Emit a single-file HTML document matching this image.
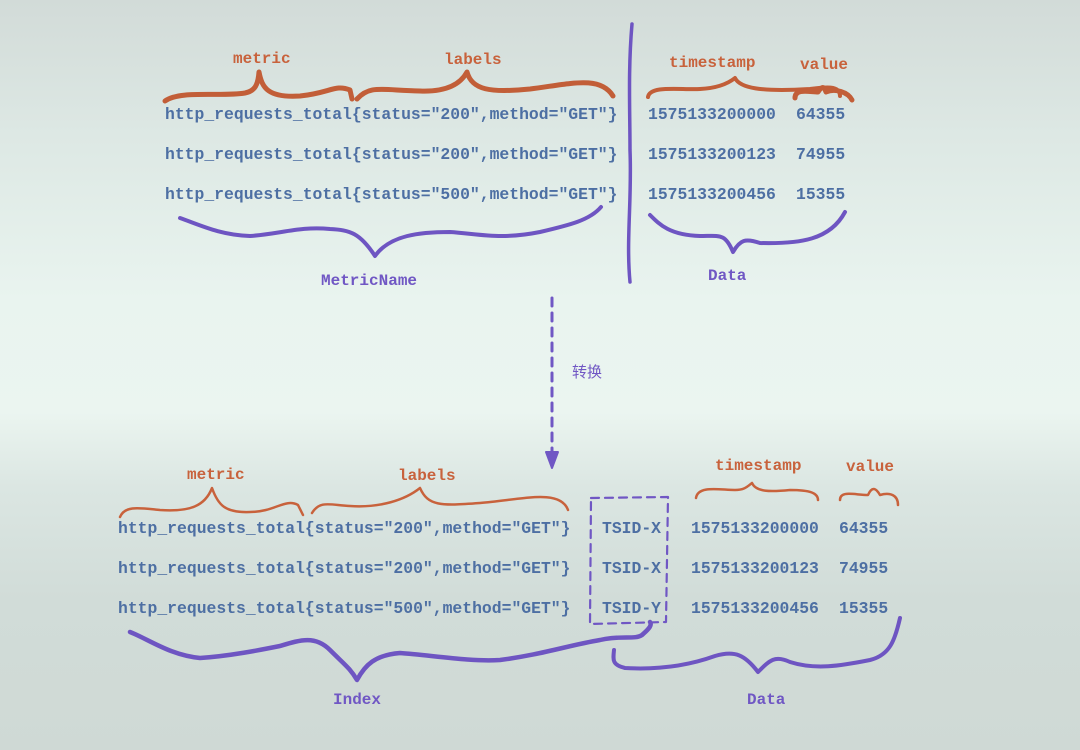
<!DOCTYPE html>
<html><head><meta charset="utf-8"><style>
html,body{margin:0;padding:0}
body{width:1080px;height:750px;overflow:hidden;background:linear-gradient(180deg,#d2dbd8 0%,#dde8e4 18%,#e9f4ef 40%,#ebf5f0 55%,#dbe6e2 65%,#d1dcd8 80%,#cfd9d5 100%)}
svg{position:absolute;left:0;top:0}
.c{font-family:"Liberation Mono",monospace;font-size:16.4px;fill:#4d6fa3;font-weight:bold}
.o{font-family:"Liberation Mono",monospace;font-size:16px;fill:#c8623c;font-weight:bold}
.p{font-family:"Liberation Mono",monospace;font-size:16px;fill:#7057c4;font-weight:bold}
</style></head><body>
<svg width="1080" height="750" viewBox="0 0 1080 750">
<g fill="none" stroke-linecap="round" stroke-linejoin="round">
<!-- top orange braces -->
<path d="M165 101 C180 90 220 97 245 93 C255 91 258 85 259 72 C262 88 268 98 300 96 C330 93 335 84 350 90 L352 99" stroke="#c25e38" stroke-width="5"/>
<path d="M357 99 C370 85 380 90 420 91 C445 92 460 85 467 72 C472 90 490 93 530 89 C570 84 600 75 613 96" stroke="#c25e38" stroke-width="5"/>
<path d="M648 97 C650 85 680 90 700 89 C720 88 730 82 735 78 C740 88 760 92 810 89 C825 87 840 85 840 96" stroke="#c25e38" stroke-width="4"/>
<path d="M795 98 C795 88 810 92 818 92 C822 86 824 86 826 92 C835 88 848 92 852 100" stroke="#c25e38" stroke-width="5"/>
<!-- top purple braces -->
<path d="M180 218 C200 225 220 235 250 236 C280 234 300 226 330 229 C350 230 360 233 375 256 C390 235 420 232 450 232 C480 234 500 240 540 232 C570 225 590 220 601 207" stroke="#6e55c2" stroke-width="4"/>
<path d="M650 215 C660 225 670 235 700 236 C720 236 725 233 733 252 C740 240 745 238 760 243 C800 244 830 240 845 212" stroke="#6e55c2" stroke-width="4"/>
<path d="M632 24 C628 70 630 110 630 150 C632 200 626 240 630 282" stroke="#6e55c2" stroke-width="3.5"/>
<!-- arrow -->
<path d="M552 298 L552 452" stroke="#7057c4" stroke-width="3" stroke-dasharray="8,7"/>
<path d="M546 452 L552 468 L558 452 Z" fill="#7057c4" stroke="#7057c4" stroke-width="2"/>
<!-- bottom orange braces -->
<path d="M120 517 C125 505 140 508 160 510 C190 512 205 506 212 488 C218 505 225 513 250 512 C275 512 285 498 298 505 L303 515" stroke="#c8623c" stroke-width="2.5"/>
<path d="M312 513 C320 500 330 505 350 506 C380 508 405 500 420 488 C428 506 440 506 480 503 C520 500 560 488 568 510" stroke="#c8623c" stroke-width="2.5"/>
<path d="M696 498 C698 485 720 490 735 490 C745 490 748 486 752 483 C756 492 770 492 790 490 C810 490 818 493 818 500" stroke="#c8623c" stroke-width="2.5"/>
<path d="M840 500 C840 490 855 495 868 495 C872 486 876 488 880 495 C890 492 898 495 898 505" stroke="#c8623c" stroke-width="2.5"/>
<!-- TSID box -->
<path d="M591 498 L668 497 L666 622 L590 624 Z" stroke="#7057c4" stroke-width="2.2" stroke-dasharray="8,6"/>
<!-- bottom purple braces -->
<path d="M130 632 C150 640 170 655 200 658 C230 656 260 650 280 646 C300 640 315 635 330 650 C345 665 350 668 357 680 C365 665 375 655 400 653 C430 655 470 662 500 660 C540 655 570 645 600 640 C620 635 635 640 642 635 C650 628 652 625 650 622" stroke="#6e55c2" stroke-width="4.5"/>
<path d="M614 650 C613 660 612 665 625 668 C660 670 690 665 715 656 C735 650 745 655 758 672 C770 660 775 655 790 662 C815 670 840 666 870 660 C890 655 895 640 900 618" stroke="#6e55c2" stroke-width="4"/>
</g>
<text class="o" x="233" y="63">metric</text>
<text class="o" x="444" y="64">labels</text>
<text class="o" x="669" y="67">timestamp</text>
<text class="o" x="800" y="69">value</text>
<text class="c" x="165" y="119">http_requests_total{status="200",method="GET"}</text>
<text class="c" x="165" y="159">http_requests_total{status="200",method="GET"}</text>
<text class="c" x="165" y="199">http_requests_total{status="500",method="GET"}</text>
<text class="c" x="648" y="119">1575133200000</text><text class="c" x="796" y="119">64355</text>
<text class="c" x="648" y="159">1575133200123</text><text class="c" x="796" y="159">74955</text>
<text class="c" x="648" y="199">1575133200456</text><text class="c" x="796" y="199">15355</text>
<text class="p" x="321" y="285">MetricName</text>
<text class="p" x="708" y="280">Data</text>
<text x="572" y="377" style="font-family:'Liberation Sans','Noto Sans CJK SC',sans-serif;font-size:15px;fill:#7057c4">转换</text>
<text class="o" x="187" y="479">metric</text>
<text class="o" x="398" y="480">labels</text>
<text class="o" x="715" y="470">timestamp</text>
<text class="o" x="846" y="471">value</text>
<text class="c" x="118" y="533">http_requests_total{status="200",method="GET"}</text>
<text class="c" x="118" y="573">http_requests_total{status="200",method="GET"}</text>
<text class="c" x="118" y="613">http_requests_total{status="500",method="GET"}</text>
<text class="c" x="602" y="533">TSID-X</text>
<text class="c" x="602" y="573">TSID-X</text>
<text class="c" x="602" y="613">TSID-Y</text>
<text class="c" x="691" y="533">1575133200000</text><text class="c" x="839" y="533">64355</text>
<text class="c" x="691" y="573">1575133200123</text><text class="c" x="839" y="573">74955</text>
<text class="c" x="691" y="613">1575133200456</text><text class="c" x="839" y="613">15355</text>
<text class="p" x="333" y="704">Index</text>
<text class="p" x="747" y="704">Data</text>
</svg>
</body></html>
